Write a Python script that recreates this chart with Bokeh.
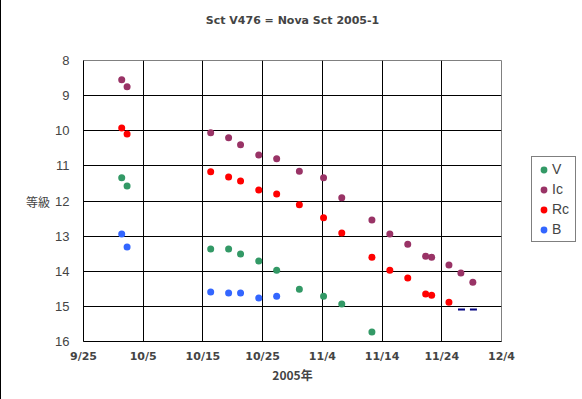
from bokeh.plotting import figure
from bokeh.models import FixedTicker, Legend, LegendItem, Range1d
from bokeh.embed import file_html
from bokeh.resources import INLINE

# days after 9/25 (2005)
tick_days = [0, 10, 20, 30, 40, 50, 60, 70]
tick_labels = ["9/25", "10/5", "10/15", "10/25", "11/4", "11/14", "11/24", "12/4"]
mag_ticks = [8, 9, 10, 11, 12, 13, 14, 15, 16]

v_days = [6.4, 7.3, 21.3, 24.3, 26.3, 29.35, 32.35, 36.15, 40.2, 43.25, 48.3]
v_mags = [11.34, 11.57, 13.37, 13.37, 13.51, 13.71, 13.97, 14.51, 14.71, 14.93, 15.73]

ic_days = [6.4, 7.3, 21.3, 24.3, 26.3, 29.35, 32.35, 36.15, 40.2, 43.25, 48.3, 51.3, 54.3, 57.3, 58.3, 61.2, 63.2, 65.2]
ic_mags = [8.55, 8.75, 10.06, 10.2, 10.4, 10.69, 10.8, 11.15, 11.34, 11.91, 12.54, 12.94, 13.23, 13.57, 13.6, 13.82, 14.05, 14.31]

rc_days = [6.4, 7.3, 21.3, 24.3, 26.3, 29.35, 32.35, 36.15, 40.2, 43.25, 48.3, 51.3, 54.3, 57.3, 58.3, 61.2]
rc_mags = [9.92, 10.09, 11.17, 11.32, 11.43, 11.69, 11.8, 12.11, 12.48, 12.91, 13.6, 13.97, 14.19, 14.65, 14.68, 14.88]

b_days = [6.4, 7.3, 21.3, 24.3, 26.3, 29.35, 32.35]
b_mags = [12.94, 13.31, 14.59, 14.62, 14.62, 14.76, 14.71]

lim_days = [63.3, 65.3]
lim_mags = [15.09, 15.09]

title_text = "Sct V476 = Nova Sct 2005-1"

p = figure(width=582, height=399, output_backend="svg", toolbar_location=None,
           x_range=Range1d(0, 70), y_range=Range1d(16, 8),
           frame_width=418, frame_height=281,
           min_border_left=82, min_border_right=82, min_border_top=60, min_border_bottom=58,
           title=title_text + "\n\n")
p.styles = {"border-left": "1px solid black", "border-right": "1px solid black",
            "border-bottom": "1px solid black"}
p.title.align = "center"
p.title.text_font = "DejaVu Sans"
p.title.text_font_size = "11px"
p.title.text_font_style = "bold"
p.title.text_line_height = 1.08
p.title.standoff = 10

p.outline_line_color = "#808080"
p.background_fill_color = "white"
p.border_fill_color = "white"

p.xaxis.ticker = FixedTicker(ticks=tick_days)
p.xaxis.major_label_overrides = {d: l for d, l in zip(tick_days, tick_labels)}
p.xaxis.major_label_text_font = "DejaVu Sans"
p.xaxis.major_label_text_font_style = "bold"
p.xaxis.major_label_text_font_size = "11px"
p.xaxis.major_label_standoff = 8
p.xaxis.axis_label = "2005年"
p.xaxis.axis_label_text_font = "Noto Sans CJK JP"
p.xaxis.axis_label_text_font_style = "bold"
p.xaxis.axis_label_text_font_size = "12px"
p.xaxis.axis_label_standoff = 0

p.yaxis.ticker = FixedTicker(ticks=mag_ticks)
p.yaxis.major_label_text_font = "Liberation Sans"
p.yaxis.major_label_text_font_size = "13px"
p.yaxis.major_label_standoff = 14
p.yaxis.axis_label = "等級"
p.yaxis.axis_label_orientation = "horizontal"
p.yaxis.axis_label_text_font = "Noto Sans CJK JP"
p.yaxis.axis_label_text_font_style = "normal"
p.yaxis.axis_label_text_font_size = "12px"
p.yaxis.axis_label_standoff = 2

for ax in (p.xaxis, p.yaxis):
    ax.major_tick_out = 0
    ax.major_tick_in = 0
    ax.minor_tick_out = 0
    ax.minor_tick_in = 0
    ax.axis_line_color = "black"

p.xgrid.ticker = FixedTicker(ticks=tick_days[1:-1])
p.ygrid.ticker = FixedTicker(ticks=mag_ticks[1:-1])
p.xgrid.grid_line_color = "black"
p.ygrid.grid_line_color = "black"
p.xgrid.grid_line_alpha = 1
p.ygrid.grid_line_alpha = 1

rv = p.scatter(v_days, v_mags, size=7, fill_color="#339966", line_color=None)
ri = p.scatter(ic_days, ic_mags, size=7, fill_color="#993366", line_color=None)
rr = p.scatter(rc_days, rc_mags, size=7, fill_color="#FF0000", line_color=None)
rb = p.scatter(b_days, b_mags, size=7, fill_color="#3366FF", line_color=None)
p.scatter(lim_days, lim_mags, marker="dash", size=7, line_color="#000080", line_width=2)

legend = Legend(items=[LegendItem(label="V", renderers=[rv]),
                       LegendItem(label="Ic", renderers=[ri]),
                       LegendItem(label="Rc", renderers=[rr]),
                       LegendItem(label="B", renderers=[rb])],
                location=(30, 99))
legend.label_text_font = "Liberation Sans"
legend.label_text_font_size = "14px"
legend.glyph_width = 17
legend.glyph_height = 17
legend.label_standoff = 0
legend.spacing = 2
legend.padding = 3
legend.margin = 0
legend.label_height = 18
legend.border_line_color = "black"
legend.background_fill_alpha = 1
p.add_layout(legend, "right")

open("out.html", "w").write(file_html(p, INLINE))
